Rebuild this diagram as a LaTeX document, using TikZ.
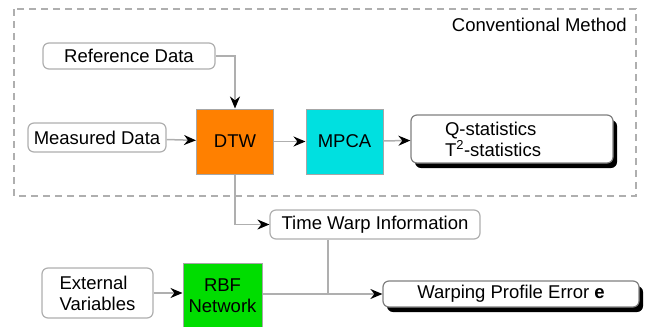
\documentclass[tikz,border=0pt]{standalone}
\usepackage{fontspec}
\setmainfont{Liberation Sans}
\usetikzlibrary{arrows.meta,positioning,shadows}
\definecolor{dtwOrange}{RGB}{255,128,0}
\definecolor{mpcaCyan}{RGB}{0,224,224}
\definecolor{rbfGreen}{RGB}{0,221,0}
\definecolor{lineGray}{RGB}{175,175,175}

\begin{document}
\begin{tikzpicture}[x=1pt, y=-1pt,
    every node/.style={font=\fontsize{18.5}{21}\selectfont, inner sep=0pt},
    databox/.style={draw=lineGray, line width=1.2pt, rounded corners=6pt, fill=white},
    outbox/.style={databox, draw=gray, drop shadow={shadow xshift=4pt, shadow yshift=-5pt, fill=black, opacity=1}},
    procbox/.style={draw=gray!70, line width=1pt, minimum width=77pt, minimum height=65pt, align=center},
    flow/.style={draw=lineGray, line width=1.5pt, -{Stealth[black, length=12pt, width=10pt]}}]
    \useasboundingbox (0,0) rectangle (646,327);

    % conventional method frame
    \draw[lineGray, line width=1.2pt, dash pattern=on 7pt off 5pt] (14,9) rectangle (636,196);
    \node[anchor=east] (conv) at (627,25) {Conventional Method};

    % inputs
    \node[databox, minimum width=172pt, minimum height=26pt] (refdata) at (129,56) {Reference Data};
    \node[databox, minimum width=138pt, minimum height=29pt] (measdata) at (97,137.5) {Measured Data};

    % processing
    \node[procbox, fill=dtwOrange] (dtw) at (235,141.5) {DTW};
    \node[procbox, fill=mpcaCyan] (mpca) at (344.5,141.5) {MPCA};
    \node[outbox, minimum width=202pt, minimum height=48pt, inner xsep=34pt, text width=134pt, align=left]
      (stats) at (512,139) {Q-statistics\\T\textsuperscript{2}-statistics};

    \draw[flow] (refdata.east) -| (dtw.north);
    \draw[flow] (measdata) -- (dtw);
    \draw[flow] (dtw) -- (mpca);
    \draw[flow] (mpca) -- (stats);

    % time warp part
    \node[databox, minimum width=210pt, minimum height=29pt] (twinfo) at (375,224.5) {Time Warp Information};
    \node[databox, minimum width=111pt, minimum height=50pt, align=left] (extvar) at (97.5,293) {External\\Variables};
    \node[procbox, fill=rbfGreen, minimum width=79pt] (rbf) at (222.5,295.5) {RBF\\Network};
    \node[outbox, minimum width=256pt, minimum height=26pt] (wpe) at (511,294) {Warping Profile Error \textbf{e}};
    \coordinate (join) at (328,294);

    \draw[flow] (dtw.south) |- (twinfo.west);
    \draw[flow] (extvar) -- (extvar -| rbf.west);
    \draw[flow] (join -| rbf.east) -- (wpe.west);
    \draw[lineGray, line width=1.5pt] (twinfo.south -| join) -- (join);
  \end{tikzpicture}
\end{document}
